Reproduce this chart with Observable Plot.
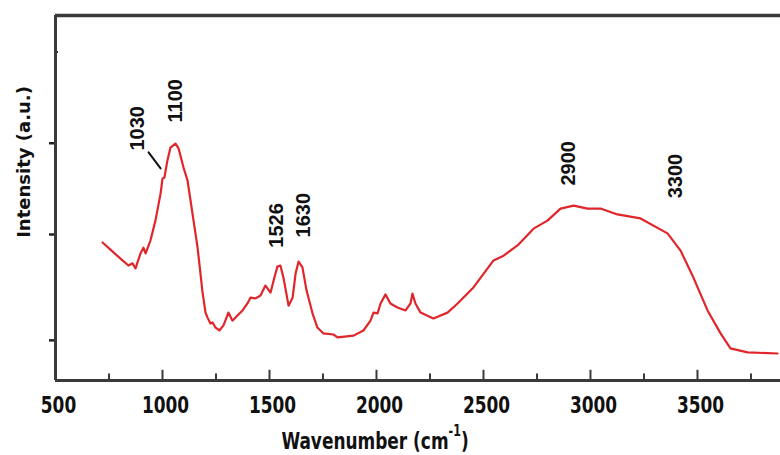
<!DOCTYPE html>
<html><head><meta charset="utf-8">
<script src="https://cdn.jsdelivr.net/npm/d3@7"></script>
<script src="https://cdn.jsdelivr.net/npm/@observablehq/plot@0.6"></script>
<style>
body{margin:0;background:#fff}
#chart{width:780px;height:455px;overflow:hidden}
</style>
</head><body><div id="chart"></div>
<script>
const wavenumber = [720,771,813,841,860,874,897,911,921,944,967,991,1000,1009,1023,1037,1061,1075,1098,1117,1140,1164,1187,1201,1210,1224,1234,1248,1266,1285,1308,1327,1350,1374,1397,1411,1435,1458,1481,1505,1523,1537,1551,1565,1579,1589,1608,1622,1636,1654,1673,1701,1724,1752,1799,1818,1893,1939,1972,1986,2005,2019,2042,2065,2098,2136,2159,2168,2182,2206,2266,2332,2379,2453,2547,2594,2659,2734,2799,2860,2921,2986,3047,3126,3234,3360,3421,3481,3547,3608,3654,3734,3874];
const intensity = [37.8,35.1,32.9,31.5,32.1,30.7,34.8,36.4,34.8,38.4,43.8,51.2,55.3,55.6,60.3,63.8,64.9,63.6,58.4,54.8,45.8,36.4,24.2,18.6,17.3,15.6,15.9,14.5,13.7,15.1,18.6,16.4,17.8,19.2,21.1,22.7,22.5,23.3,26.0,24.1,28.2,31.2,31.5,28.2,23.8,20.5,22.7,29.3,32.6,31.0,24.7,18.4,14.5,12.9,12.6,11.8,12.3,13.7,16.4,18.6,18.4,21.1,23.6,21.1,20.0,19.2,21.1,23.8,21.1,18.6,17.0,18.6,21.1,25.5,32.9,34.2,37.0,41.6,43.8,47.1,47.9,47.1,47.1,45.5,44.4,40.3,35.6,28.2,19.2,12.9,8.8,7.7,7.4];

const peakLabels = ["1030","1100","1526","1630","2900","3300"];
const peakLabelX = [883,1061,1533,1659,2897,3397];
const peakLabelY = [63.0,70.7,36.4,39.2,53.4,49.9];

const leaderX = [935,991];
const leaderY = [62.5,58.1];

const xMajorTicks = [500,1000,1500,2000,2500,3000,3500];
const xMinorTicks = [750,1250,1750,2250,2750,3250,3750];
const yTicks = [11,40,65];
const yInnerTicks = [90];

const xLabel = "Wavenumber (cm";
const xLabelSup = "-1";
const yLabel = "Intensity (a.u.)";

const spectrum = wavenumber.map((w,i)=>({w, v: intensity[i]}));
const peaks = peakLabels.map((t,i)=>({t, x: peakLabelX[i], y: peakLabelY[i]}));
const leader = leaderX.map((x,i)=>({x, y: leaderY[i]}));

const narrow = "'Liberation Sans Narrow','DejaVu Sans Condensed',sans-serif";
const frameColor = "#3a3a3a";
const red = "#e0262a";

const chart = Plot.plot({
  width: 780, height: 455,
  marginLeft: 55, marginRight: 0, marginTop: 15, marginBottom: 75,
  x: {domain: [500, 3888]},
  y: {domain: [0, 100]},
  style: {background: "#fff", overflow: "visible"},
  marks: [
    Plot.ruleX(xMajorTicks, {x: d=>d, y1: 0, y2: 2.8, stroke: frameColor, strokeWidth: 2}),
    Plot.ruleX(xMinorTicks, {x: d=>d, y1: 0, y2: 1.8, stroke: frameColor, strokeWidth: 2}),
    Plot.axisX({ticks: xMajorTicks, tickSize: 0, tickPadding: 16, tickFormat: d => String(d), label: null,
      fontSize: 23, fontWeight: "bold", fontFamily: narrow, fill: "#111", dx: 3}),
    Plot.axisY({ticks: yTicks, tickSize: 6, tickFormat: () => "", label: null, stroke: "#222", strokeWidth: 2.5}),
    Plot.ruleY(yInnerTicks, {y: d=>d, x1: 500, x2: 514, stroke: "#222", strokeWidth: 2}),
    Plot.ruleX([500], {stroke: frameColor, strokeWidth: 3}),
    Plot.ruleY([0], {stroke: frameColor, strokeWidth: 3}),
    Plot.ruleY([100], {stroke: frameColor, strokeWidth: 3.5}),
    Plot.line(spectrum, {x: "w", y: "v", stroke: red, strokeWidth: 2.2, curve: "linear"}),
    Plot.line(leader, {x: "x", y: "y", stroke: "#111", strokeWidth: 2}),
    Plot.text(peaks, {x: "x", y: "y", text: "t", rotate: -90, textAnchor: "start",
      fontSize: 20, fontWeight: "bold", fontFamily: "'Liberation Sans',Arial,sans-serif", fill: "#111"})
  ]
});

const svg = d3.select(chart);
// condense the x tick labels horizontally
svg.selectAll("g[aria-label='x-axis tick label'] text").each(function() {
  const t = this.getAttribute("transform") || "";
  this.setAttribute("transform", t + " scale(0.82,1)");
});

svg.append("text")
  .attr("transform", "translate(30,162) rotate(-90)")
  .attr("text-anchor", "middle")
  .attr("font-family", "'DejaVu Sans',Verdana,sans-serif")
  .attr("font-weight", "bold")
  .attr("font-size", 18)
  .attr("fill", "#111")
  .text(yLabel);

const xl = svg.append("text")
  .attr("transform", "translate(375,449) scale(0.82,1)")
  .attr("text-anchor", "middle")
  .attr("font-family", narrow)
  .attr("font-weight", "bold")
  .attr("font-size", 23)
  .attr("fill", "#111");
xl.append("tspan").text(xLabel);
xl.append("tspan").attr("dy", -13).attr("font-size", 15).text(xLabelSup);
xl.append("tspan").attr("dy", 13).text(")");

document.getElementById("chart").appendChild(chart);
</script>
</body></html>
